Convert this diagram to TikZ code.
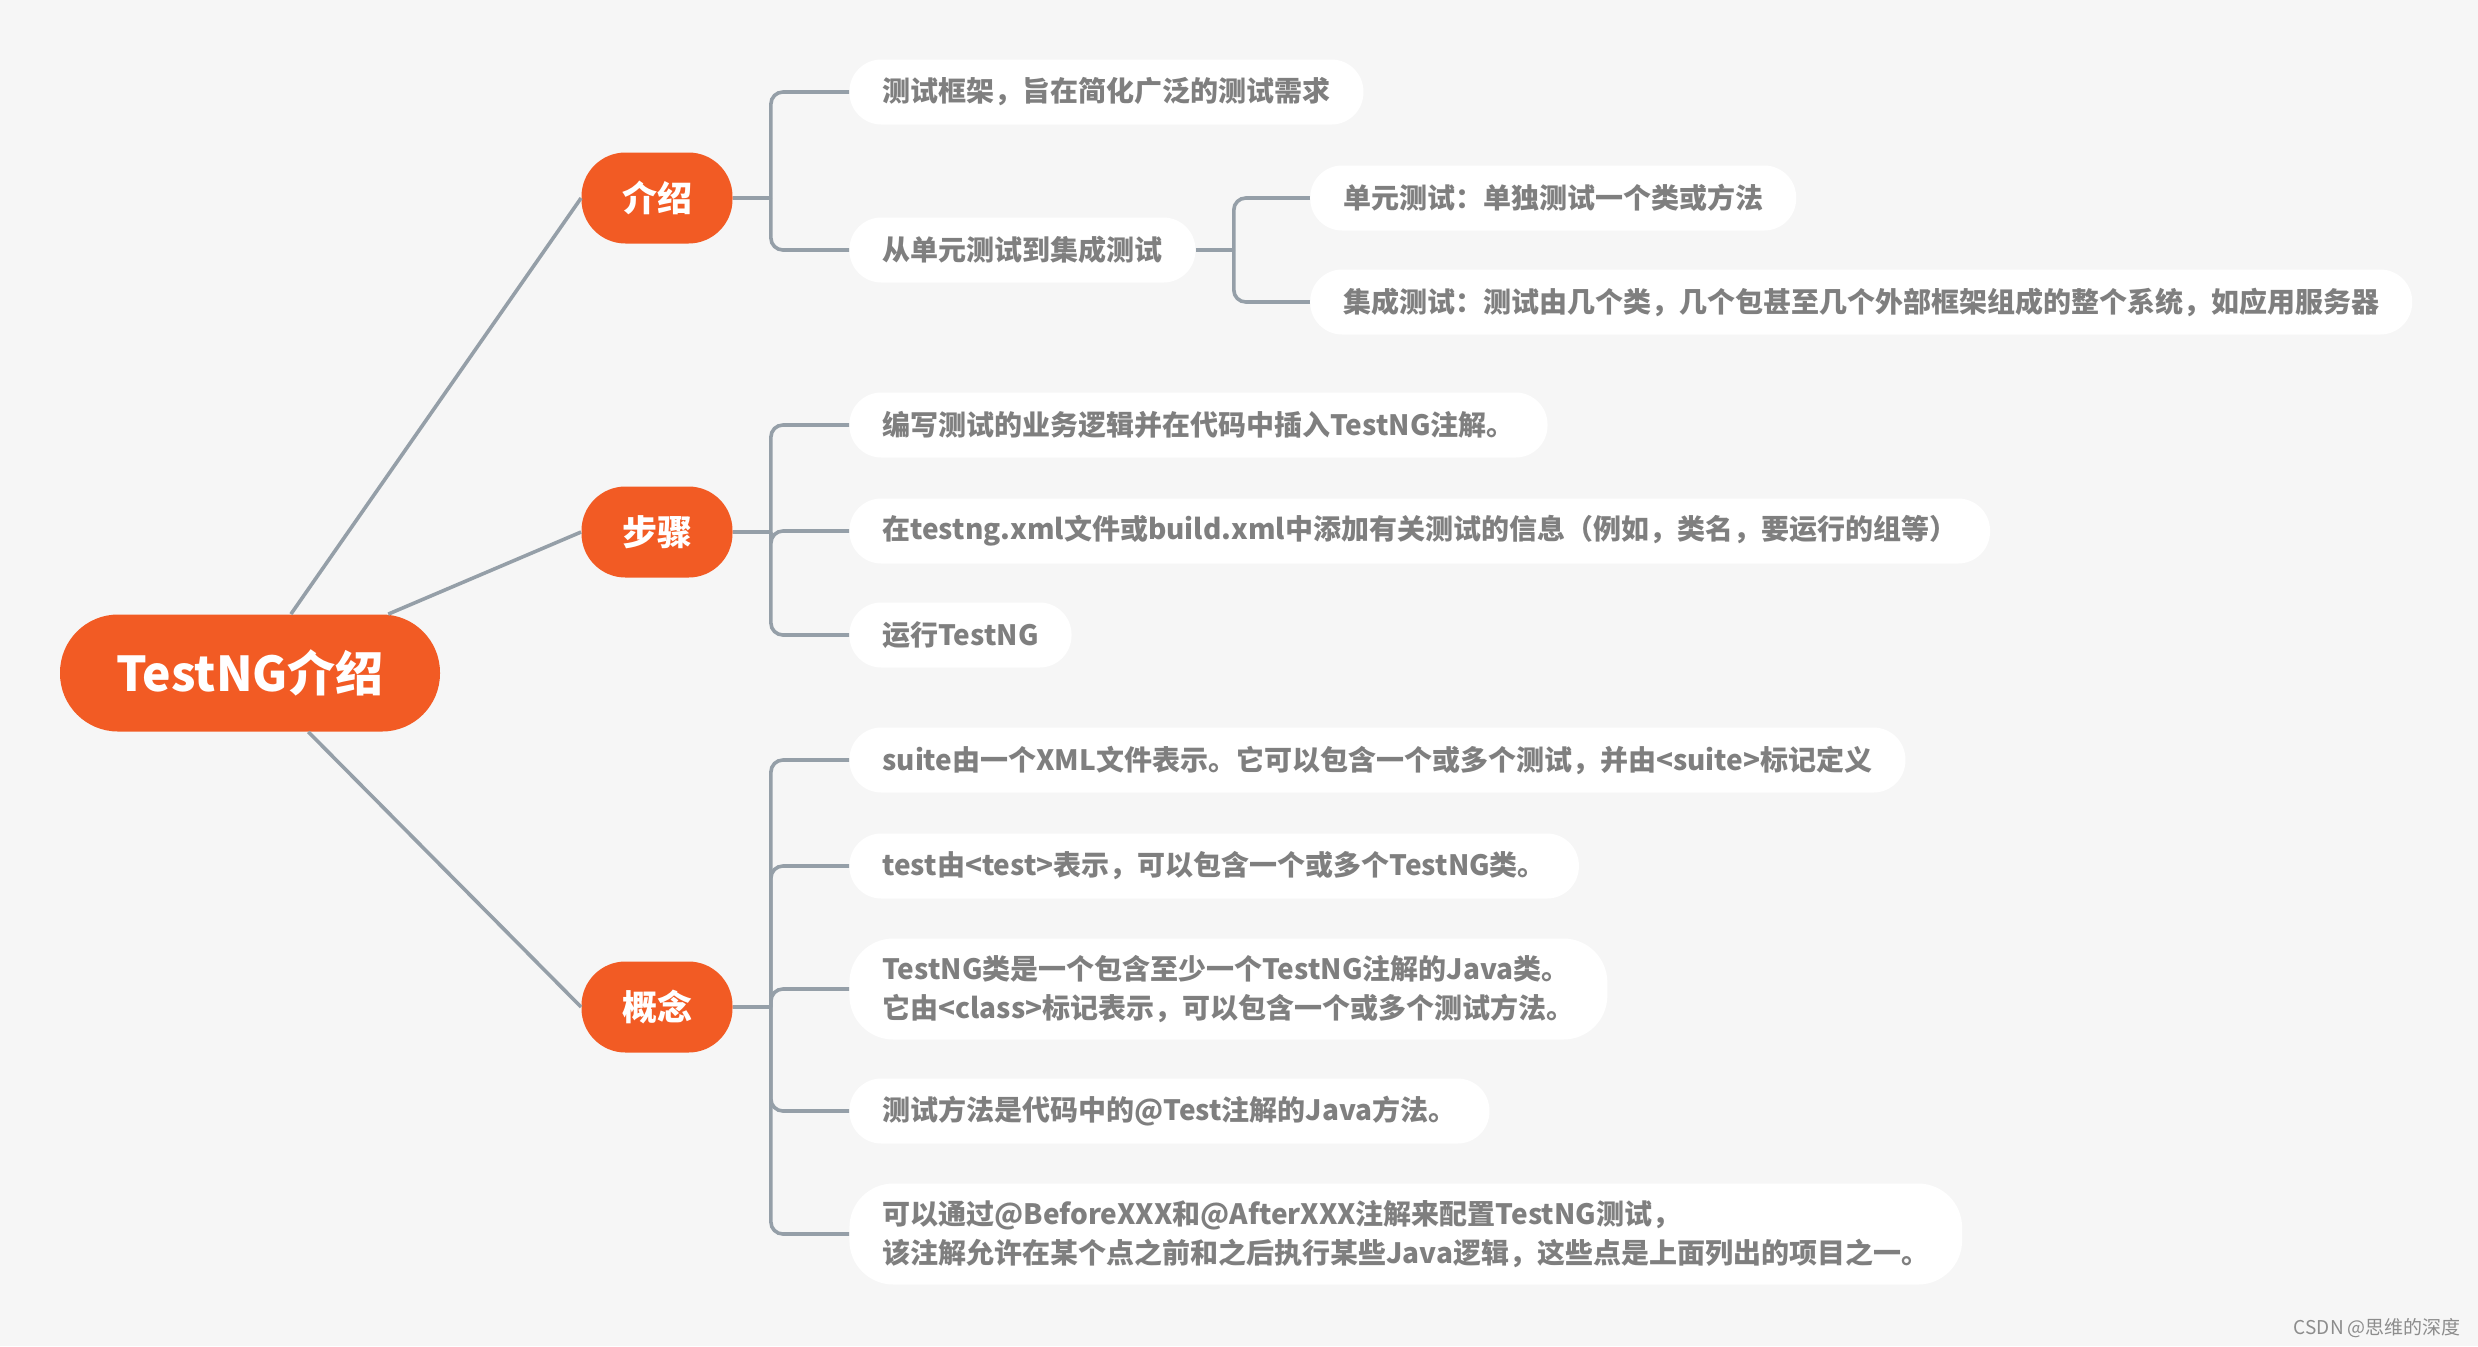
\documentclass[tikz,border=0pt]{standalone}
\usepackage{fontspec}
\setmainfont{Noto Sans CJK SC}
\usetikzlibrary{positioning}

\definecolor{bgcol}{HTML}{F6F6F6}
\definecolor{mainorange}{HTML}{F25B24}
\definecolor{linkgray}{HTML}{959FA8}
\definecolor{leafgray}{HTML}{7F7F7F}

\tikzset{
  rootbox/.style={fill=mainorange, text=white, font=\bfseries\fontsize{24}{28}\selectfont,
    minimum width=190pt, minimum height=58.5pt, rounded corners=29pt, inner sep=0pt},
  branch/.style={fill=mainorange, text=white, font=\bfseries\fontsize{17.5}{20}\selectfont,
    minimum width=75.5pt, minimum height=45.5pt, rounded corners=22pt, inner sep=0pt},
  leaf/.style={fill=white, text=leafgray, font=\bfseries\fontsize{14}{19.75}\selectfont,
    anchor=west, minimum height=32.5pt, inner xsep=16.5pt, inner ysep=0pt,
    rounded corners=16pt, align=left},
  leaftwo/.style={leaf, minimum height=50.5pt, rounded corners=22pt},
  link/.style={draw=linkgray, line width=1.8pt, rounded corners=6pt},
}

\begin{document}
\begin{tikzpicture}[x=0.5pt, y=-0.5pt]
  % 背景
  \fill[bgcol] (0,0) rectangle (2478,1346);

  % 根节点
  \node[rootbox] (root) at (250,673) {TestNG介绍};

  % 一级分支
  \node[branch] (intro) at (657,198)  {介绍};
  \node[branch] (steps) at (657,532)  {步骤};
  \node[branch] (ideas) at (657,1007) {概念};
  \foreach \b in {intro,steps,ideas}
    \draw[link] (root) -- (\b.west);

  % 介绍
  \node[leaf] (i1) at (849,92)  {测试框架，旨在简化广泛的测试需求};
  \node[leaf] (i2) at (849,250) {从单元测试到集成测试};
  \path (intro.east) ++(38,0) coordinate (ji);
  \draw[link] (intro.east) -- (ji);
  \foreach \l in {i1,i2}
    \draw[link] (ji) |- (\l.west);

  \path (i2.east) ++(38,0) coordinate (ji2);
  \node[leaf, right=38pt of ji2, yshift=26pt]  (u1) {单元测试：单独测试一个类或方法};
  \node[leaf, right=38pt of ji2, yshift=-26pt] (u2) {集成测试：测试由几个类，几个包甚至几个外部框架组成的整个系统，如应用服务器};
  \draw[link] (i2.east) -- (ji2);
  \foreach \l in {u1,u2}
    \draw[link] (ji2) |- (\l.west);

  % 步骤
  \node[leaf] (s1) at (849,425) {编写测试的业务逻辑并在代码中插入TestNG注解。};
  \node[leaf] (s2) at (849,531) {在testng.xml文件或build.xml中添加有关测试的信息（例如，类名，要运行的组等）};
  \node[leaf] (s3) at (849,635) {运行TestNG};
  \path (steps.east) ++(38,0) coordinate (js);
  \draw[link] (steps.east) -- (js);
  \foreach \l in {s1,s2,s3}
    \draw[link] (js) |- (\l.west);

  % 概念
  \node[leaf]    (c1) at (849,760)  {suite由一个XML文件表示。它可以包含一个或多个测试，并由<suite>标记定义};
  \node[leaf]    (c2) at (849,866)  {test由<test>表示，可以包含一个或多个TestNG类。};
  \node[leaftwo] (c3) at (849,989)  {TestNG类是一个包含至少一个TestNG注解的Java类。\\它由<class>标记表示，可以包含一个或多个测试方法。};
  \node[leaf]    (c4) at (849,1111) {测试方法是代码中的@Test注解的Java方法。};
  \node[leaftwo] (c5) at (849,1234) {可以通过@BeforeXXX和@AfterXXX注解来配置TestNG测试，\\该注解允许在某个点之前和之后执行某些Java逻辑，这些点是上面列出的项目之一。};
  \path (ideas.east) ++(38,0) coordinate (jc);
  \draw[link] (ideas.east) -- (jc);
  \foreach \l in {c1,c2,c3,c4,c5}
    \draw[link] (jc) |- (\l.west);

  % 水印
  \node[anchor=east, text=black!45, font=\fontsize{9.5}{11}\selectfont] (mark) at (2468,1328) {CSDN @思维的深度};
\end{tikzpicture}
\end{document}
